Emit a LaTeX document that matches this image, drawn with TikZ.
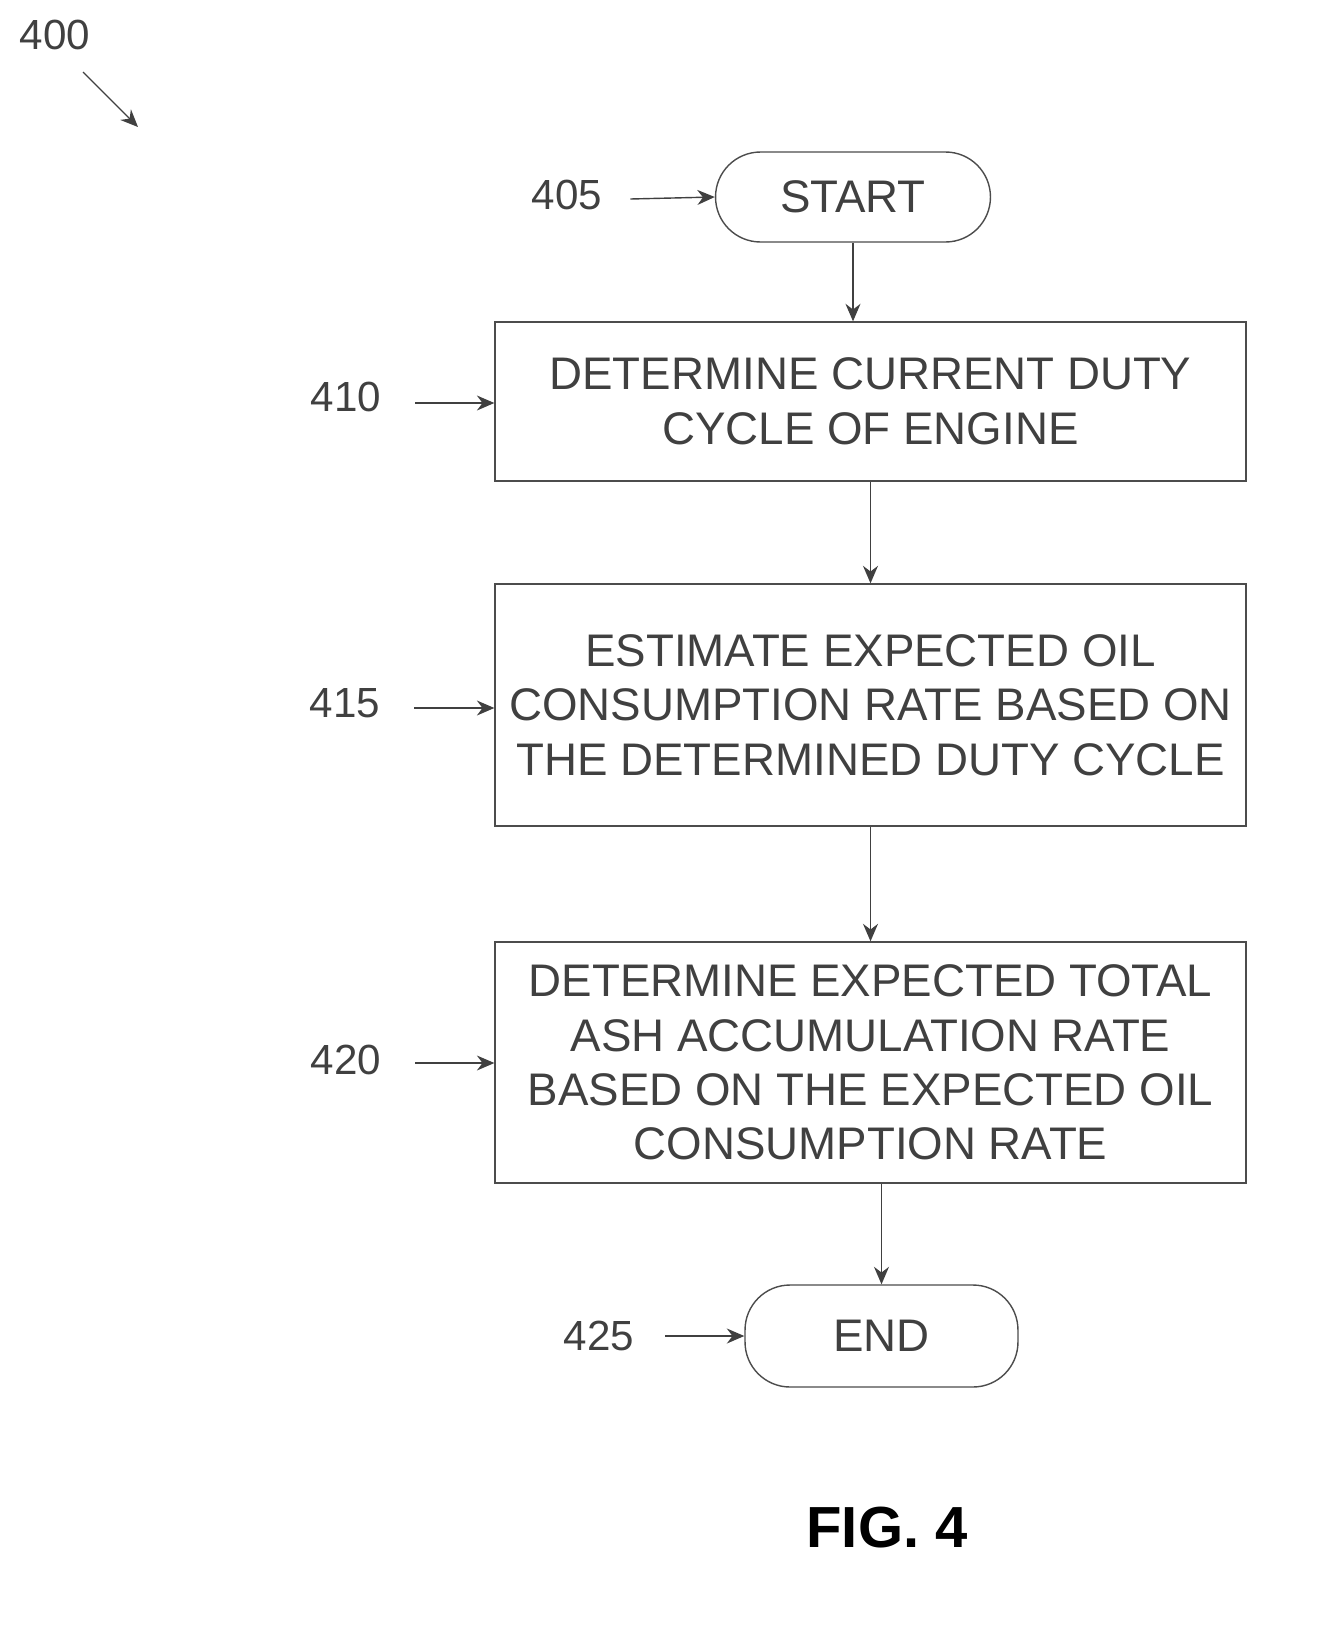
\documentclass[tikz,border=0pt]{standalone}
\usepackage{fontspec}
\setmainfont{Liberation Sans}
\usetikzlibrary{arrows.meta}
\begin{document}
\begin{tikzpicture}[x=0.02cm,y=-0.02cm,
    box/.style={draw=black!70, thick, minimum width=15.02cm, align=center,
      text=black!75, font=\fontsize{26}{31}\selectfont},
    term/.style={draw=black!70, thick, rounded corners=0.9cm, align=center,
      text=black!75, font=\fontsize{26}{31}\selectfont},
    lbl/.style={text=black!75, font=\fontsize{24}{28}\selectfont},
    flow/.style={-{Stealth[length=0.35cm,width=0.3cm]}, thick, black!75}]
                  % Page frame
                  \useasboundingbox (0,0) rectangle (1319,1633);

                  % Figure number
                  \node[lbl] (n400) at (55,35) {400};
                  \coordinate (a400s) at (83,72);
                  \coordinate (a400e) at (138,127);
                  \draw[flow] (a400s) -- (a400e);

                  % Terminals and steps
                  \node[term, minimum width=5.5cm, minimum height=1.8cm] (start) at (853,197) {START};
                  \node[box, minimum height=3.18cm] (s410) at (870.5,401.5) {DETERMINE CURRENT DUTY\\CYCLE OF ENGINE};
                  \node[box, minimum height=4.84cm] (s415) at (870.5,705) {ESTIMATE EXPECTED OIL\\CONSUMPTION RATE BASED ON\\THE DETERMINED DUTY CYCLE};
                  \node[box, minimum height=4.82cm] (s420) at (870.5,1062.5) {DETERMINE EXPECTED TOTAL\\ASH ACCUMULATION RATE\\BASED ON THE EXPECTED OIL\\CONSUMPTION RATE};
                  \node[term, minimum width=5.46cm, minimum height=2.04cm] (end) at (881.5,1336) {END};

                  % Flow arrows
                  \draw[flow] (start.south) -- (s410.north -| start.south);
                  \draw[flow] (s410.south) -- (s415.north);
                  \draw[flow] (s415.south) -- (s420.north);
                  \draw[flow] (s420.south -| end.north) -- (end.north);

                  % Reference labels
                  \node[lbl] (n405) at (567,195) {405};
                  \node[lbl] (n410) at (346,397) {410};
                  \node[lbl] (n415) at (345,703) {415};
                  \node[lbl] (n420) at (346,1060) {420};
                  \node[lbl] (n425) at (599,1336) {425};
                  \draw[flow] (n405.east) ++(22,4) -- (start.west);
                  \draw[flow] (n410.east) ++(28,6) -- (s410.west |- 0,403);
                  \draw[flow] (n415.east) ++(28,5) -- (s415.west |- 0,708);
                  \draw[flow] (n420.east) ++(28,3) -- (s420.west |- 0,1063);
                  \draw[flow] (n425.east) ++(25,0) -- (end.west);

                  \node[font=\bfseries\fontsize{33}{38}\selectfont] (fig) at (887,1528) {FIG. 4};
\end{tikzpicture}
\end{document}
